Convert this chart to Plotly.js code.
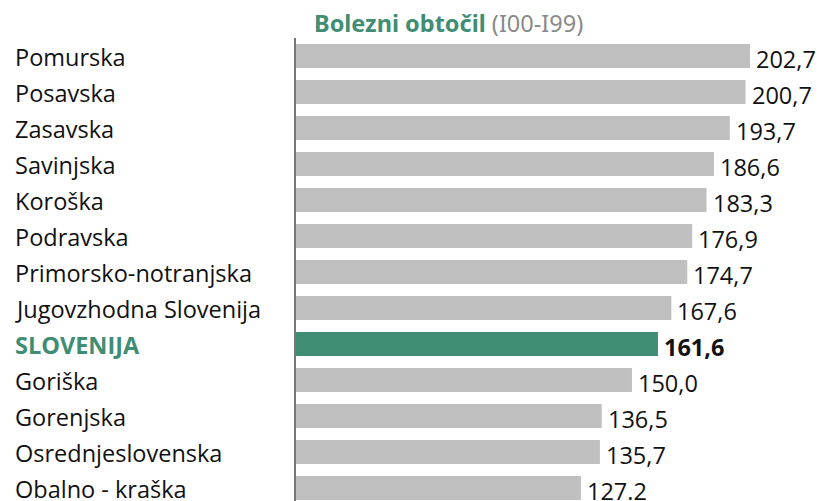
<!DOCTYPE html>
<html><head><meta charset="utf-8">
<script src="https://cdn.plot.ly/plotly-3.0.1.min.js"></script>
<style>body{margin:0;background:#fff}#c{width:821px;height:501px}</style>
</head><body><div id="c"></div>
<script>
const regions = ["Pomurska","Posavska","Zasavska","Savinjska","Koroška","Podravska","Primorsko-notranjska","Jugovzhodna Slovenija","SLOVENIJA","Goriška","Gorenjska","Osrednjeslovenska","Obalno - kraška"];
const values = [202.7,200.7,193.7,186.6,183.3,176.9,174.7,167.6,161.6,150.0,136.5,135.7,127.2];
const valueLabels = ["202,7","200,7","193,7","186,6","183,3","176,9","174,7","167,6","161,6","150,0","136,5","135,7","127.2"];
const highlight = "SLOVENIJA";
const GREEN = "#3f8e74", GREY = "#c0c0c0";

const colors = regions.map(r => r === highlight ? GREEN : GREY);
const ann = [];
regions.forEach((r, i) => {
  const hl = r === highlight;
  ann.push({xref:'paper', yref:'y', x:0, y:r, xanchor:'left', yanchor:'middle', xshift:-283, yshift:-1, showarrow:false,
    text: hl ? '<b>'+r+'</b>' : r,
    font:{family:'Open Sans', size:23.5, color: hl ? GREEN : '#111'}});
  ann.push({xref:'x', yref:'y', x:values[i], y:r, xanchor:'left', yanchor:'middle', xshift:4, yshift:-3, showarrow:false,
    text: hl ? '<b>'+valueLabels[i]+'</b>' : valueLabels[i],
    font:{family:'Open Sans', size:23.5, color:'#111'}});
});
ann.push({xref:'paper', yref:'paper', x:0, y:1, xanchor:'left', yanchor:'middle', xshift:16, yshift:15, showarrow:false,
  text:'<b>Bolezni obtočil</b> <span style="color:#8a8a8a">(I00-I99)</span>',
  font:{family:'Noto Sans', size:23.5, color:GREEN}});

Plotly.newPlot('c', [{
  type:'bar', orientation:'h', x:values, y:regions,
  marker:{color:colors}, width:0.67, hoverinfo:'none'
}], {
  width:821, height:501, margin:{l:296, r:0, t:38, b:0},
  paper_bgcolor:'#fff', plot_bgcolor:'#fff', showlegend:false,
  xaxis:{range:[0,234.4], showgrid:false, zeroline:false, showticklabels:false, showline:false, fixedrange:true},
  yaxis:{type:'category', range:[12.36,-0.5], showticklabels:false, showgrid:false, zeroline:false,
    showline:true, linecolor:'#777', linewidth:2, ticks:''},
  annotations: ann
}, {displayModeBar:false, staticPlot:true});
</script></body></html>
